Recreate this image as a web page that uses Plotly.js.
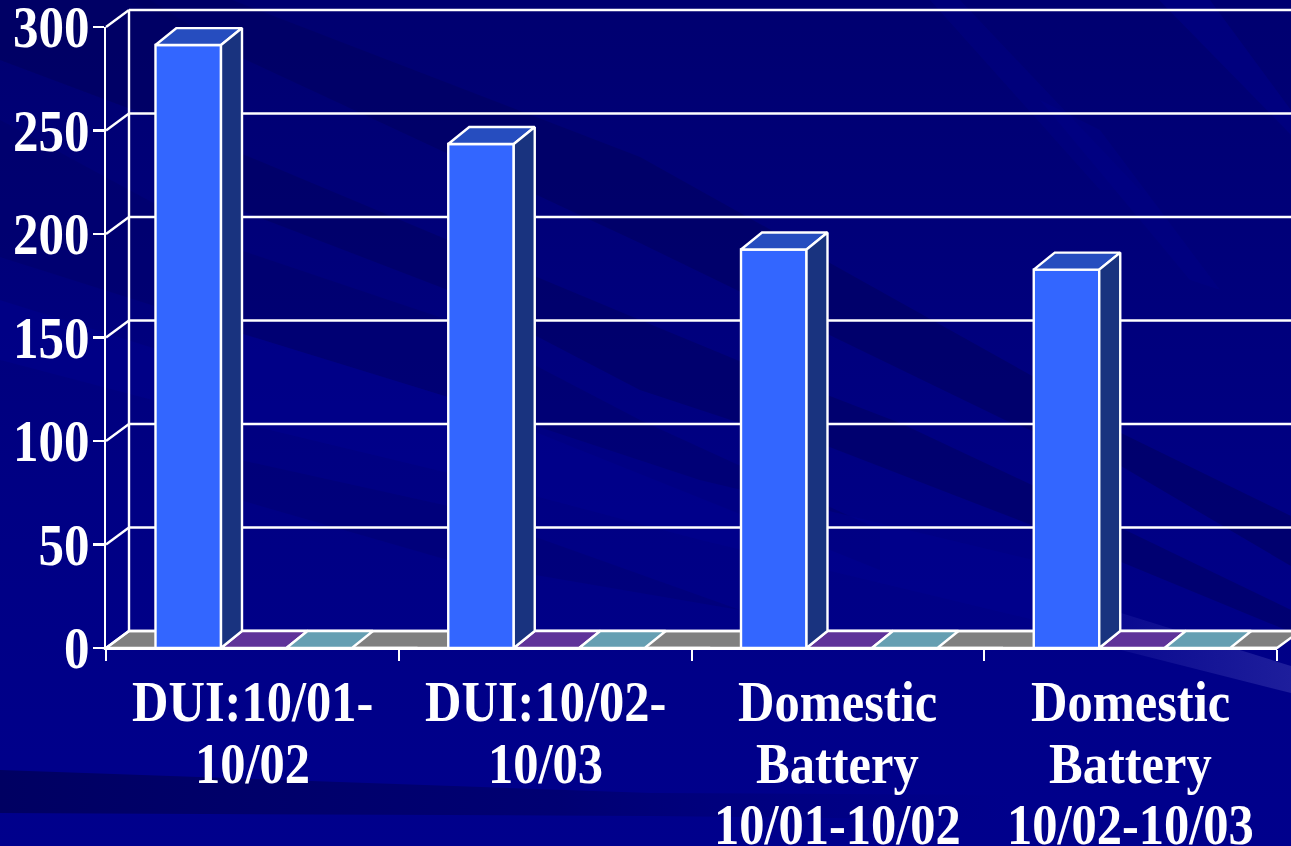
<!DOCTYPE html>
<html><head><meta charset="utf-8">
<script src="https://cdn.plot.ly/plotly-3.0.1.min.js"></script>
<style>
html,body{margin:0;padding:0;width:1291px;height:846px;overflow:hidden;background:#000080}
#bg{position:absolute;left:0;top:0;width:1291px;height:846px}
#chart{position:absolute;left:0;top:0;width:1291px;height:846px}
</style></head><body>
<svg id="bg" viewBox="0 0 1291 846">
<defs>
<linearGradient id="base" x1="0" y1="0" x2="0" y2="1"><stop offset="0" stop-color="#000070"/><stop offset="0.3" stop-color="#00007a"/><stop offset="0.6" stop-color="#000084"/><stop offset="1" stop-color="#00008c"/></linearGradient>
<linearGradient id="low" x1="0" y1="0" x2="1" y2="0"><stop offset="0" stop-color="#000062"/><stop offset="0.55" stop-color="#00006c" stop-opacity="0.8"/><stop offset="1" stop-color="#000078" stop-opacity="0"/></linearGradient>
<linearGradient id="glow" x1="0" y1="0" x2="1" y2="0"><stop offset="0" stop-color="#0b0b90"/><stop offset="1" stop-color="#1e1e9c"/></linearGradient>
</defs>
<rect width="1291" height="846" fill="url(#base)"/>
<polygon points="0,0 150,0 240,57 240,150 0,60" fill="#00005e" opacity=".6"/>
<polygon points="130,0 232,0 640,157 1034,377 1121,433 1291,516 1291,566 1121,466 1005,420 640,243 240,57" fill="#000060" opacity=".6"/>
<polygon points="240,153 448,240 640,320 744,363 900,423 1034,486 1291,610 1291,632 1034,526 827,446 740,423 640,390 448,290 240,210" fill="#000060" opacity=".55"/>
<polygon points="0,120 240,250 448,320 640,420 880,530 880,570 448,397 240,333 0,257" fill="#000064" opacity=".4"/>
<polygon points="240,460 448,506 740,610 448,560 240,500" fill="#00006a" opacity=".35"/>
<polygon points="240,333 448,397 700,480 1034,560 1034,620 700,540 448,473 240,423" fill="#000090" opacity=".5"/>
<polygon points="0,300 240,375 240,423 0,360" fill="#00008e" opacity=".5"/>
<polygon points="1121,613 1291,666 1291,693 1121,650" fill="url(#glow)"/>
<polygon points="1159,0 1210,0 1291,110 1291,135" fill="#00008a" opacity=".5"/>
<polygon points="930,0 960,0 1140,190 1100,190" fill="#000086" opacity=".4"/>
<polygon points="1040,100 1100,130 1220,290 1190,280" fill="#00008a" opacity=".4"/>
<polygon points="0,770 651,793 1013,795 1013,820 651,816 0,813" fill="url(#low)"/>
</svg>
<div id="chart"></div>
<script>
var categories = ["DUI:10/01-<br>10/02", "DUI:10/02-<br>10/03", "Domestic<br>Battery<br>10/01-10/02", "Domestic<br>Battery<br>10/02-10/03"];
var seriesA = [291.3, 243.5, 192.5, 182.8];
var seriesB = [0, 0, 0, 0];
var seriesC = [0, 0, 0, 0];
var seriesD = [0, 0, 0, 0];
var yTicks = [0, 50, 100, 150, 200, 250, 300];
var xTicks = [0, 1, 2, 3, 4];

var W = 1291, H = 846, L = 106, R = 1277, T = 27, B = 648;
var pxX = (R - L) / 4, pxY = (B - T) / 300;
var barDX = 21 / pxX, barDY = 17 / pxY, wallDX = 23 / pxX, wallDY = 17 / pxY;
var barOff = 49.5 / pxX, barW = 65.5 / pxX, step = 65.5 / pxX;
var white = "#ffffff", lw = 2.4;
var fontFam = '"Liberation Serif","Times New Roman",serif';

function barTrace(vals, k, color) {
  return {type: "bar", x: vals.map(function (_, i) { return i + barOff + k * step + barW / 2; }),
    y: vals, width: barW, marker: {color: color, line: {color: white, width: lw}},
    cliponaxis: false, hoverinfo: "skip", showlegend: false};
}
function faces(vals, k, fn, color) {
  var xs = [], ys = [];
  vals.forEach(function (v, i) {
    var l = i + barOff + k * step, r = l + barW;
    fn(l, r, v).forEach(function (q) { xs.push(q[0]); ys.push(q[1]); });
    xs.push(null); ys.push(null);
  });
  return {type: "scatter", mode: "lines", x: xs, y: ys, fill: "toself", fillcolor: color,
    line: {color: white, width: lw}, cliponaxis: false, hoverinfo: "skip", showlegend: false};
}
function topFace(l, r, v) { return [[l, v], [l + barDX, v + barDY], [r + barDX, v + barDY], [r, v], [l, v]]; }
function sideFace(l, r, v) { return [[r, 0], [r + barDX, barDY], [r + barDX, v + barDY], [r, v], [r, 0]]; }

var traces = [
  barTrace(seriesA, 0, "#3366ff"),
  barTrace(seriesB, 1, "#5f3399"),
  barTrace(seriesC, 2, "#669fb2"),
  barTrace(seriesD, 3, "#808080"),
  faces(seriesB, 1, topFace, "#5f3399"),
  faces(seriesC, 2, topFace, "#669fb2"),
  faces(seriesA, 0, topFace, "#264dbf"),
  faces(seriesA, 0, sideFace, "#19337f")
];

function px(x) { return x / 4; }
function py(y) { return y / 300; }
function seg(x0, y0, x1, y1) {
  return {type: "line", xref: "paper", yref: "paper", layer: "below",
    x0: px(x0), y0: py(y0), x1: px(x1), y1: py(y1), line: {color: white, width: lw}};
}
var shapes = [];
shapes.push({type: "path", xref: "paper", yref: "paper", layer: "below", fillcolor: "#808080",
  line: {color: white, width: lw},
  path: "M0,0 L" + px(wallDX) + "," + py(wallDY) + " L" + px(4 + wallDX) + "," + py(wallDY) + " L1,0 Z"});
yTicks.forEach(function (v) {
  shapes.push(seg(0, v, wallDX, v + wallDY));
  shapes.push(seg(wallDX, v + wallDY, 4.2, v + wallDY));
});
shapes.push(seg(wallDX, wallDY, wallDX, 300 + wallDY));

var annotations = [];
categories.forEach(function (c, i) {
  c.split("<br>").forEach(function (line, j) {
    annotations.push({xref: "x", yref: "paper", x: i + 0.5, y: 0, yanchor: "middle", xanchor: "center",
      yshift: -(54 + 61.5 * j), text: line, showarrow: false,
      font: {family: fontFam, size: 50.5, color: white, weight: 700}});
  });
});

var layout = {
  width: W, height: H, autosize: false, showlegend: false,
  paper_bgcolor: "rgba(0,0,0,0)", plot_bgcolor: "rgba(0,0,0,0)",
  margin: {l: L, r: W - R, t: T, b: H - B, pad: 0},
  barmode: "overlay",
  xaxis: {range: [0, 4], tickmode: "array", tickvals: xTicks, ticktext: xTicks.map(function () { return ""; }),
    ticks: "outside", ticklen: 11, tickwidth: 2, tickcolor: white, showgrid: false, zeroline: false,
    showline: true, linecolor: white, linewidth: 2.4},
  yaxis: {range: [0, 300], tickmode: "array", tickvals: yTicks, ticks: "outside", ticklen: 11, tickwidth: 2.4,
    tickcolor: white, showgrid: false, zeroline: false, showline: true, linecolor: white, linewidth: 2.4,
    ticklabeloverflow: "allow", ticklabelstandoff: -7,
    tickfont: {family: fontFam, size: 51, color: white, weight: 700}},
  shapes: shapes, annotations: annotations
};
var stretch = 1.14;
Plotly.newPlot("chart", traces, layout, {displayModeBar: false, staticPlot: true}).then(function () {
  // the reference's lettering is slightly taller than it is wide
  document.querySelectorAll("#chart .ytick text, #chart .annotation-text").forEach(function (t) {
    var bb = t.getBBox(), cy = bb.y + bb.height / 2;
    var prev = t.getAttribute("transform") || "";
    t.setAttribute("transform", prev + " translate(0," + cy + ") scale(1," + stretch + ") translate(0," + (-cy) + ")");
  });
});
</script>
</body></html>
